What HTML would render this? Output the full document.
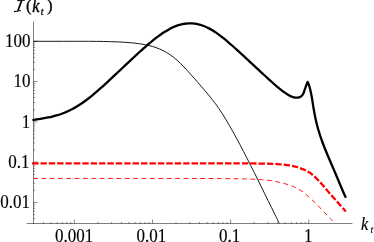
<!DOCTYPE html>
<html><head><meta charset="utf-8"><title>plot</title>
<style>
html,body{margin:0;padding:0;background:#fff;}
body{width:374px;height:242px;overflow:hidden;font-family:"Liberation Serif",serif;}
svg{display:block;position:absolute;left:0;top:0;}
</style></head><body>
<svg width="374" height="242" viewBox="0 0 374 242" style="will-change:transform">
<rect width="374" height="242" fill="#fff"/>
<line x1="26.7" y1="223.5" x2="352.4" y2="223.5" stroke="#000" stroke-opacity="0.5" stroke-width="1"/>
<line x1="33.5" y1="21.6" x2="33.5" y2="224.0" stroke="#000" stroke-opacity="0.5" stroke-width="1"/>
<path d="M43.32 223.5 v-1.6 M50.89 223.5 v-1.6 M57.07 223.5 v-1.6 M62.30 223.5 v-1.6 M66.83 223.5 v-1.6 M70.83 223.5 v-1.6 M74.40 223.5 v-4.0 M97.91 223.5 v-1.6 M111.66 223.5 v-1.6 M121.42 223.5 v-1.6 M128.99 223.5 v-1.6 M135.17 223.5 v-1.6 M140.40 223.5 v-1.6 M144.93 223.5 v-1.6 M148.93 223.5 v-1.6 M152.50 223.5 v-4.0 M176.01 223.5 v-1.6 M189.76 223.5 v-1.6 M199.52 223.5 v-1.6 M207.09 223.5 v-1.6 M213.27 223.5 v-1.6 M218.50 223.5 v-1.6 M223.03 223.5 v-1.6 M227.03 223.5 v-1.6 M230.60 223.5 v-4.0 M254.11 223.5 v-1.6 M267.86 223.5 v-1.6 M277.62 223.5 v-1.6 M285.19 223.5 v-1.6 M291.37 223.5 v-1.6 M296.60 223.5 v-1.6 M301.13 223.5 v-1.6 M305.13 223.5 v-1.6 M308.70 223.5 v-4.0 M33.5 218.44 h1.6 M33.5 214.54 h1.6 M33.5 211.35 h1.6 M33.5 208.65 h1.6 M33.5 206.31 h1.6 M33.5 204.25 h1.6 M33.5 202.41 h4.0 M33.5 190.28 h1.6 M33.5 183.19 h1.6 M33.5 178.15 h1.6 M33.5 174.25 h1.6 M33.5 171.06 h1.6 M33.5 168.36 h1.6 M33.5 166.02 h1.6 M33.5 163.96 h1.6 M33.5 162.12 h4.0 M33.5 149.99 h1.6 M33.5 142.90 h1.6 M33.5 137.86 h1.6 M33.5 133.96 h1.6 M33.5 130.77 h1.6 M33.5 128.07 h1.6 M33.5 125.73 h1.6 M33.5 123.67 h1.6 M33.5 121.83 h4.0 M33.5 109.70 h1.6 M33.5 102.61 h1.6 M33.5 97.57 h1.6 M33.5 93.67 h1.6 M33.5 90.48 h1.6 M33.5 87.78 h1.6 M33.5 85.44 h1.6 M33.5 83.38 h1.6 M33.5 81.54 h4.0 M33.5 69.41 h1.6 M33.5 62.32 h1.6 M33.5 57.28 h1.6 M33.5 53.38 h1.6 M33.5 50.19 h1.6 M33.5 47.49 h1.6 M33.5 45.15 h1.6 M33.5 43.09 h1.6 M33.5 41.25 h4.0" stroke="#000" stroke-opacity="0.5" stroke-width="0.9" fill="none"/>
<path d="M33.50 41.30 C42.33 41.30 51.25 41.30 60.00 41.30 C68.75 41.30 81.08 41.30 86.00 41.30 C90.92 41.30 88.33 41.29 89.50 41.30 C90.67 41.31 91.83 41.34 93.00 41.35 C94.17 41.36 95.33 41.37 96.50 41.38 C97.67 41.39 98.83 41.41 100.00 41.42 C101.17 41.44 102.33 41.46 103.50 41.48 C104.67 41.50 105.83 41.52 107.00 41.55 C108.17 41.58 109.33 41.61 110.50 41.64 C111.67 41.68 112.83 41.71 114.00 41.76 C115.17 41.80 116.33 41.85 117.50 41.90 C118.67 41.95 119.83 42.01 121.00 42.07 C122.17 42.13 123.33 42.20 124.50 42.27 C125.67 42.35 126.83 42.43 128.00 42.52 C129.17 42.61 130.33 42.71 131.50 42.82 C132.67 42.92 133.83 43.04 135.00 43.17 C136.17 43.30 137.33 43.45 138.50 43.61 C139.67 43.77 140.83 43.94 142.00 44.13 C143.17 44.33 144.33 44.54 145.50 44.77 C146.67 45.01 147.83 45.26 149.00 45.55 C150.17 45.83 151.33 46.14 152.50 46.48 C153.67 46.82 154.83 47.19 156.00 47.61 C157.17 48.02 158.33 48.46 159.50 48.95 C160.67 49.44 161.83 49.97 163.00 50.55 C164.17 51.13 165.33 51.76 166.50 52.44 C167.67 53.13 168.83 53.86 170.00 54.66 C171.17 55.46 172.33 56.32 173.50 57.24 C174.67 58.15 175.83 59.13 177.00 60.17 C178.17 61.20 179.33 62.30 180.50 63.44 C181.67 64.58 182.83 65.78 184.00 67.00 C185.17 68.22 186.33 69.50 187.50 70.78 C188.67 72.06 189.83 73.37 191.00 74.69 C192.17 76.00 193.33 77.34 194.50 78.67 C195.67 80.00 196.83 81.34 198.00 82.68 C199.17 84.02 200.33 85.36 201.50 86.71 C202.67 88.05 203.83 89.40 205.00 90.76 C206.17 92.13 207.33 93.50 208.50 94.90 C209.67 96.30 210.83 97.71 212.00 99.18 C213.17 100.65 214.33 102.14 215.50 103.71 C216.67 105.29 217.83 106.92 219.00 108.64 C220.17 110.35 221.33 112.16 222.50 114.00 C223.67 115.84 224.83 117.75 226.00 119.69 C227.17 121.64 228.33 123.62 229.50 125.65 C230.67 127.67 231.83 129.73 233.00 131.83 C234.17 133.92 235.33 136.06 236.50 138.21 C237.67 140.37 238.83 142.56 240.00 144.76 C241.17 146.97 242.33 149.20 243.50 151.45 C244.67 153.69 245.83 155.96 247.00 158.23 C248.17 160.51 249.33 162.80 250.50 165.11 C251.67 167.42 252.83 169.74 254.00 172.07 C255.17 174.40 256.33 176.75 257.50 179.11 C258.67 181.46 259.83 183.83 261.00 186.20 C262.17 188.57 263.33 190.95 264.50 193.32 C265.67 195.69 266.83 198.07 268.00 200.44 C269.17 202.81 270.33 205.18 271.50 207.55 C272.67 209.91 273.83 212.28 275.00 214.66 C276.17 217.04 277.80 220.39 278.50 221.83 C279.20 223.26 278.97 222.79 279.20 223.27" stroke="#000" stroke-width="0.9" fill="none"/>
<path d="M33.60 178.45 C55.73 178.45 72.27 178.44 100.00 178.45 C127.73 178.46 176.67 178.44 200.00 178.50 C223.33 178.56 230.57 178.66 240.00 178.80 C249.43 178.94 252.45 179.15 256.60 179.35 C260.75 179.55 262.13 179.72 264.90 180.00 C267.67 180.28 270.43 180.53 273.20 181.00 C275.97 181.47 278.74 182.10 281.50 182.80 C284.26 183.50 287.22 184.30 289.75 185.20 C292.28 186.10 294.43 187.03 296.70 188.20 C298.97 189.37 301.17 190.55 303.40 192.20 C305.63 193.85 307.87 196.08 310.10 198.10 C312.33 200.12 314.57 202.07 316.80 204.30 C319.03 206.53 321.25 209.13 323.50 211.50 C325.75 213.87 328.73 216.88 330.30 218.50 C331.87 220.12 332.03 220.30 332.90 221.20" stroke="#f00" stroke-width="0.9" fill="none" stroke-dasharray="4.8 3.56" stroke-dashoffset="0.65"/>
<path d="M32.00 163.30 C54.67 163.30 72.00 163.30 100.00 163.30 C128.00 163.30 176.67 163.30 200.00 163.30 C223.33 163.30 230.57 163.27 240.00 163.30 C249.43 163.33 251.07 163.42 256.60 163.50 C262.13 163.58 269.05 163.65 273.20 163.80 C277.35 163.95 278.74 164.13 281.50 164.40 C284.26 164.67 287.22 164.97 289.75 165.40 C292.28 165.83 294.43 166.33 296.70 167.00 C298.97 167.67 301.17 168.42 303.40 169.40 C305.63 170.38 307.87 171.33 310.10 172.90 C312.33 174.47 314.57 176.62 316.80 178.80 C319.03 180.98 321.25 183.45 323.50 186.00 C325.75 188.55 328.05 191.50 330.30 194.10 C332.55 196.70 334.77 199.10 337.00 201.60 C339.23 204.10 342.23 207.45 343.70 209.10 C345.17 210.75 345.10 210.70 345.80 211.50" stroke="#f00" stroke-width="2.3" fill="none" stroke-dasharray="6.4 1.99"/>
<path d="M32.40 120.09 C33.73 119.87 35.07 119.65 36.40 119.44 C37.73 119.23 39.07 119.03 40.40 118.81 C41.73 118.60 43.07 118.39 44.40 118.15 C45.73 117.92 47.07 117.68 48.40 117.41 C49.73 117.14 51.07 116.85 52.40 116.53 C53.73 116.21 55.07 115.86 56.40 115.47 C57.73 115.09 59.07 114.67 60.40 114.22 C61.73 113.76 63.07 113.27 64.40 112.73 C65.73 112.19 67.07 111.61 68.40 110.99 C69.73 110.37 71.07 109.71 72.40 109.00 C73.73 108.29 75.07 107.54 76.40 106.74 C77.73 105.95 79.07 105.11 80.40 104.23 C81.73 103.36 83.07 102.43 84.40 101.48 C85.73 100.52 87.07 99.52 88.40 98.49 C89.73 97.46 91.07 96.40 92.40 95.31 C93.73 94.22 95.07 93.09 96.40 91.95 C97.73 90.81 99.07 89.64 100.40 88.46 C101.73 87.27 103.07 86.07 104.40 84.86 C105.73 83.64 107.07 82.41 108.40 81.17 C109.73 79.94 111.07 78.69 112.40 77.44 C113.73 76.19 115.07 74.93 116.40 73.67 C117.73 72.41 119.07 71.14 120.40 69.88 C121.73 68.62 123.07 67.36 124.40 66.10 C125.73 64.84 127.07 63.59 128.40 62.34 C129.73 61.09 131.07 59.84 132.40 58.60 C133.73 57.36 135.07 56.13 136.40 54.91 C137.73 53.68 139.07 52.47 140.40 51.26 C141.73 50.06 143.07 48.87 144.40 47.69 C145.73 46.52 147.07 45.36 148.40 44.22 C149.73 43.08 151.07 41.96 152.40 40.88 C153.73 39.79 155.07 38.72 156.40 37.70 C157.73 36.68 159.07 35.68 160.40 34.74 C161.73 33.79 163.07 32.88 164.40 32.03 C165.73 31.18 167.07 30.38 168.40 29.63 C169.73 28.89 171.07 28.20 172.40 27.57 C173.73 26.95 175.07 26.38 176.40 25.89 C177.73 25.39 179.07 24.96 180.40 24.61 C181.73 24.25 183.07 23.96 184.40 23.75 C185.73 23.54 187.07 23.40 188.40 23.34 C189.73 23.28 191.07 23.29 192.40 23.38 C193.73 23.48 195.07 23.64 196.40 23.89 C197.73 24.14 199.07 24.46 200.40 24.86 C201.73 25.25 203.07 25.73 204.40 26.27 C205.73 26.81 207.07 27.43 208.40 28.11 C209.73 28.79 211.07 29.54 212.40 30.34 C213.73 31.14 215.07 32.01 216.40 32.92 C217.73 33.84 219.07 34.81 220.40 35.81 C221.73 36.82 223.07 37.87 224.40 38.95 C225.73 40.03 227.07 41.14 228.40 42.28 C229.73 43.41 231.07 44.58 232.40 45.76 C233.73 46.94 235.07 48.14 236.40 49.35 C237.73 50.56 239.07 51.78 240.40 53.01 C241.73 54.24 243.07 55.48 244.40 56.71 C245.73 57.95 247.07 59.20 248.40 60.44 C249.73 61.68 251.07 62.92 252.40 64.16 C253.73 65.40 255.07 66.64 256.40 67.87 C257.73 69.10 259.07 70.33 260.40 71.56 C261.73 72.79 263.07 74.01 264.40 75.23 C265.73 76.45 267.07 77.67 268.40 78.88 C269.73 80.09 271.07 81.31 272.40 82.50 C273.73 83.69 275.07 84.88 276.40 86.03 C277.73 87.18 279.07 88.32 280.40 89.39 C281.73 90.45 283.13 91.54 284.40 92.43 C285.67 93.33 287.07 94.20 288.00 94.77 C288.93 95.34 289.33 95.52 290.00 95.84 C290.67 96.16 291.33 96.46 292.00 96.72 C292.67 96.97 293.33 97.19 294.00 97.36 C294.67 97.52 295.33 97.65 296.00 97.70 C296.67 97.74 297.33 97.74 298.00 97.63 C298.67 97.51 299.33 97.33 300.00 96.98 C300.67 96.64 301.45 96.13 302.00 95.56 C302.55 95.00 302.92 94.38 303.30 93.60 C303.68 92.82 303.95 91.87 304.30 90.90 C304.65 89.93 305.05 88.80 305.40 87.80 C305.75 86.80 306.03 85.88 306.40 84.90 C306.77 83.92 307.20 82.90 307.60 81.90 C307.86 82.43 308.14 82.90 308.39 83.50 C308.63 84.10 308.83 84.75 309.07 85.50 C309.31 86.25 309.56 87.08 309.81 88.00 C310.06 88.92 310.32 89.92 310.57 91.00 C310.81 92.08 311.07 93.33 311.30 94.50 C311.53 95.67 311.72 96.75 311.94 98.00 C312.15 99.25 312.37 100.67 312.59 102.00 C312.80 103.33 312.99 104.62 313.21 106.00 C313.44 107.38 313.66 108.80 313.92 110.30 C314.18 111.80 314.46 113.38 314.77 115.00 C315.09 116.62 315.44 118.33 315.82 120.00 C316.20 121.67 316.60 123.33 317.03 125.00 C317.46 126.67 317.92 128.33 318.41 130.00 C318.90 131.67 319.41 133.33 319.95 135.00 C320.49 136.67 321.07 138.33 321.66 140.00 C322.25 141.67 322.87 143.33 323.50 145.00 C324.14 146.67 324.80 148.33 325.47 150.00 C326.14 151.67 326.84 153.33 327.54 155.00 C328.24 156.67 328.95 158.33 329.67 160.00 C330.38 161.67 331.11 163.33 331.82 165.00 C332.54 166.67 333.26 168.33 333.97 170.00 C334.69 171.67 335.40 173.33 336.10 175.00 C336.80 176.67 337.50 178.33 338.20 180.00 C338.90 181.67 339.59 183.33 340.29 185.00 C341.00 186.67 341.69 188.33 342.41 190.00 C343.13 191.67 344.02 193.70 344.60 195.00 C345.18 196.30 345.46 196.87 345.88 197.80" stroke="#000" stroke-width="2.3" fill="none" stroke-linejoin="round"/>
<text transform="translate(30.50 47.25) scale(1 1.05)" text-anchor="end" font-family="Liberation Serif" font-size="17.0" fill="#000" stroke="#000" stroke-width="0.15" >100</text>
<text transform="translate(30.50 87.40) scale(1 1.05)" text-anchor="end" font-family="Liberation Serif" font-size="17.0" fill="#000" stroke="#000" stroke-width="0.15" >10</text>
<text transform="translate(30.20 127.70) scale(1 1.05)" text-anchor="end" font-family="Liberation Serif" font-size="17.0" fill="#000" stroke="#000" stroke-width="0.15" >1</text>
<text transform="translate(29.50 168.00) scale(1 1.05)" text-anchor="end" font-family="Liberation Serif" font-size="17.0" fill="#000" stroke="#000" stroke-width="0.15" >0.1</text>
<text transform="translate(30.00 208.40) scale(1 1.05)" text-anchor="end" font-family="Liberation Serif" font-size="17.0" fill="#000" stroke="#000" stroke-width="0.15" >0.01</text>
<text transform="translate(74.00 241.90) scale(1 1.05)" text-anchor="middle" font-family="Liberation Serif" font-size="17.0" fill="#000" stroke="#000" stroke-width="0.15" >0.001</text>
<text transform="translate(151.30 241.90) scale(1 1.05)" text-anchor="middle" font-family="Liberation Serif" font-size="17.0" fill="#000" stroke="#000" stroke-width="0.15" >0.01</text>
<text transform="translate(229.60 241.90) scale(1 1.05)" text-anchor="middle" font-family="Liberation Serif" font-size="17.0" fill="#000" stroke="#000" stroke-width="0.15" >0.1</text>
<text transform="translate(308.30 241.90) scale(1 1.05)" text-anchor="middle" font-family="Liberation Serif" font-size="17.0" fill="#000" stroke="#000" stroke-width="0.15" >1</text>
<text transform="translate(361.0 229.6) scale(0.95 1.06)" font-family="Liberation Serif" font-size="17" font-style="italic" fill="#000" stroke="#000" stroke-width="0.15">k</text>
<text x="370.6" y="232.6" font-family="Liberation Serif" font-size="9.6" font-style="italic" fill="#000" stroke="#000" stroke-width="0.15">t</text>
<g stroke="#000" fill="none" stroke-linecap="butt"><path d="M17.2 0.7 C19 0.3 22.5 0.3 24.7 0.4" stroke-width="1.2" stroke="#222"/><path d="M21.7 0.4 L17.9 10.7" stroke-width="1.7"/><path d="M14.0 11.6 C16 11.4 19 11.1 20.8 10.5" stroke-width="1.1"/></g>
<text transform="translate(25.9 11.4) scale(1.02 1)" font-size="16.5" stroke-width="0.3" font-family="Liberation Serif" fill="#000" stroke="#000">(</text>
<text transform="translate(32.3 12.1) scale(0.95 1.14)" font-size="17" font-style="italic" stroke-width="0.4" font-family="Liberation Serif" fill="#000" stroke="#000">k</text>
<text x="40.7" y="14.5" font-size="9.6" font-style="italic" stroke-width="0.3" font-family="Liberation Serif" fill="#000" stroke="#000">t</text>
<text transform="translate(46.9 11.4) scale(1.02 1)" font-size="16.5" stroke-width="0.3" font-family="Liberation Serif" fill="#000" stroke="#000">)</text>
</svg>
</body></html>
